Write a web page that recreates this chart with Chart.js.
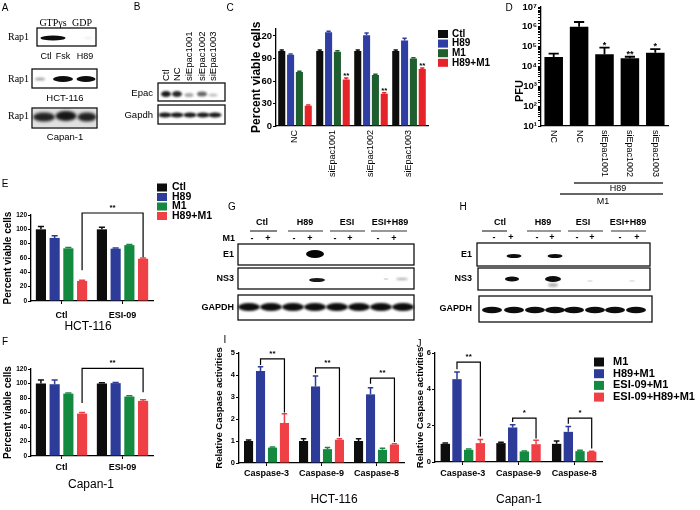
<!DOCTYPE html>
<html><head><meta charset="utf-8">
<script src="https://cdn.jsdelivr.net/npm/chart.js@4.4.1/dist/chart.umd.min.js"></script>
<style>
html,body{margin:0;padding:0;background:#fff;}
#wrap{position:relative;width:700px;height:510px;overflow:hidden;background:#fff;}
canvas{position:absolute;left:0;top:0;width:700px;height:510px;}
</style></head><body>
<div id="wrap">
<canvas id="base" width="700" height="510"></canvas>
<canvas id="chC" width="700" height="510"></canvas>
<canvas id="chD" width="700" height="510"></canvas>
<canvas id="chE" width="700" height="510"></canvas>
<canvas id="chF" width="700" height="510"></canvas>
<canvas id="chI" width="700" height="510"></canvas>
<canvas id="chJ" width="700" height="510"></canvas>
</div>
<script>
// ---------------- DATA ----------------
// Panel C
const cCategories = ['NC', 'siEpac1001', 'siEpac1002', 'siEpac1003'];
const cSeries = ['Ctl', 'H89', 'M1', 'H89+M1'];
const cCtl = [100, 100, 100, 100];
const cH89 = [95, 125, 121, 114];
const cM1 = [72, 99, 68, 90];
const cH89M1 = [27, 62, 43, 76];
const cCtlErr = [1.5, 1.5, 1.5, 1.5];
const cH89Err = [1, 1.5, 3, 3];
const cM1Err = [1, 1.5, 1, 1];
const cH89M1Err = [1, 2, 1.5, 1.5];
const cStars = ['', '**', '**', '**'];
const cYTicks = [0, 30, 60, 90, 120];

// Panel D
const dCategories = ['NC', 'NC', 'siEpac1001', 'siEpac1002', 'siEpac1003'];
const dPFU = [3.0e4, 1.0e6, 4.2e4, 2.6e4, 5.0e4];
const dPFUErr = [1.5e4, 7.5e5, 4.8e4, 0.5e4, 2.5e4];
const dStars = ['', '', '*', '**', '*'];
const dYTicks = [1e1, 1e2, 1e3, 1e4, 1e5, 1e6, 1e7];
const dYTickLabels = ['10\u00B9', '10\u00B2', '10\u00B3', '10\u2074', '10\u2075', '10\u2076', '10\u2077'];

// Panel E (HCT-116)
const eCategories = ['Ctl', 'ESI-09'];
const eCtl = [100, 100];
const eH89 = [88, 73];
const eM1 = [73.5, 78];
const eH89M1 = [28, 59];
const eCtlErr = [4, 3];
const eH89Err = [3, 1];
const eM1Err = [1, 1];
const eH89M1Err = [1, 1];
const eYTicks = [0, 20, 40, 60, 80, 100, 120];

// Panel F (Capan-1)
const fCategories = ['Ctl', 'ESI-09'];
const fCtl = [100, 100];
const fH89 = [99, 100.5];
const fM1 = [86, 82];
const fH89M1 = [58.5, 76];
const fCtlErr = [5, 1];
const fH89Err = [6, 1];
const fM1Err = [1, 1];
const fH89M1Err = [1.5, 1.5];
const fYTicks = [0, 20, 40, 60, 80, 100, 120];

// Panel I (HCT-116 caspase)
const casCategories = ['Caspase-3', 'Caspase-9', 'Caspase-8'];
const casSeries = ['M1', 'H89+M1', 'ESI-09+M1', 'ESI-09+H89+M1'];
const iM1 = [1.0, 1.0, 1.0];
const iH89M1 = [4.18, 3.48, 3.12];
const iESIM1 = [0.7, 0.63, 0.6];
const iESIH89M1 = [1.82, 1.06, 0.84];
const iM1Err = [0.05, 0.1, 0.1];
const iH89M1Err = [0.2, 0.48, 0.3];
const iESIM1Err = [0.03, 0.08, 0.07];
const iESIH89M1Err = [0.42, 0.04, 0.04];
const iYTicks = [0, 1, 2, 3, 4, 5];

// Panel J (Capan-1 caspase)
const jM1 = [1.0, 1.04, 1.0];
const jH89M1 = [4.56, 1.9, 1.66];
const jESIM1 = [0.67, 0.58, 0.6];
const jESIH89M1 = [1.04, 0.98, 0.57];
const jM1Err = [0.04, 0.05, 0.15];
const jH89M1Err = [0.4, 0.15, 0.3];
const jESIM1Err = [0.05, 0.03, 0.04];
const jESIH89M1Err = [0.2, 0.22, 0.02];
const jYTicks = [0, 2, 4, 6];

// ---------------- STYLE ----------------
const FONT = '"Liberation Sans", Arial, Helvetica, sans-serif';
const SERIF = '"Liberation Serif", "Times New Roman", serif';
Chart.defaults.font.family = FONT;
Chart.defaults.color = '#000';
const colC = ['#0d0d0d', '#2f3ea3', '#1f5e2e', '#e62329'];
const colE = ['#0d0d0d', '#2c3c98', '#138a3f', '#ef4046'];

// ---------------- PLUGIN ----------------
const decorPlugin = {
  id: 'decor',
  afterDraw(chart, args, o) {
    const ctx = chart.ctx, ys = chart.scales.y, xs = chart.scales.x;
    ctx.save();
    chart.data.datasets.forEach((ds, i) => {
      const meta = chart.getDatasetMeta(i);
      meta.data.forEach((bar, j) => {
        const v = ds.data[j], e = ds.errors ? ds.errors[j] : 0;
        let topPx = ys.getPixelForValue(v);
        if (e) {
          const py = ys.getPixelForValue(v + e);
          const cap = bar.width * (o.cap || 0.5);
          ctx.strokeStyle = ds.backgroundColor; ctx.lineWidth = o.errLw || 1.5;
          ctx.beginPath(); ctx.moveTo(bar.x, topPx); ctx.lineTo(bar.x, py);
          ctx.moveTo(bar.x - cap / 2, py); ctx.lineTo(bar.x + cap / 2, py); ctx.stroke();
          topPx = py;
        }
        if (ds.stars && ds.stars[j]) {
          ctx.fillStyle = '#000'; ctx.font = o.starFont; ctx.textAlign = 'center'; ctx.textBaseline = 'alphabetic';
          ctx.fillText(ds.stars[j], bar.x, topPx + (o.starDy || 0));
        }
      });
    });
    (o.brackets || []).forEach(b => {
      const xa = chart.getDatasetMeta(b.a[0]).data[b.a[1]].x;
      const xb = chart.getDatasetMeta(b.b[0]).data[b.b[1]].x;
      const yt = ys.getPixelForValue(b.top), ya = ys.getPixelForValue(b.aEnd), yb = ys.getPixelForValue(b.bEnd);
      ctx.strokeStyle = '#000'; ctx.lineWidth = o.brLw || 1.2;
      ctx.beginPath(); ctx.moveTo(xa, ya); ctx.lineTo(xa, yt); ctx.lineTo(xb, yt); ctx.lineTo(xb, yb); ctx.stroke();
      ctx.fillStyle = '#000'; ctx.font = o.starFont; ctx.textAlign = 'center'; ctx.textBaseline = 'alphabetic';
      ctx.fillText(b.label, (xa + xb) / 2, yt + (o.brStarDy || 3));
    });
    if (o.legend) {
      const L = o.legend;
      chart.data.datasets.forEach((ds, i) => {
        const cy = L.y + i * L.row;
        ctx.fillStyle = ds.backgroundColor; ctx.fillRect(L.x, cy - L.bh / 2, L.bw, L.bh);
        ctx.fillStyle = '#000'; ctx.font = L.font; ctx.textAlign = 'left'; ctx.textBaseline = 'middle';
        ctx.fillText(ds.label, L.x + L.bw + L.gap, cy);
      });
    }
    if (o.xLabels) {
      chart.data.labels.forEach((lab, i) => {
        const x = xs.getPixelForValue(i);
        ctx.save(); ctx.translate(x, o.xLabels.y); ctx.rotate(Math.PI / 2);
        ctx.textAlign = 'left'; ctx.textBaseline = 'middle'; ctx.font = o.xLabels.font; ctx.fillStyle = '#000';
        ctx.fillText(lab, 0, 0); ctx.restore();
      });
    }
    (o.texts || []).forEach(t => {
      ctx.save(); ctx.translate(t.x, t.y); ctx.rotate(t.rot || 0);
      ctx.font = t.font; ctx.textAlign = t.align || 'center'; ctx.textBaseline = 'middle'; ctx.fillStyle = '#000';
      ctx.fillText(t.t, 0, 0); ctx.restore();
    });
    ctx.restore();
  }
};

function makeBar(id, c) {
  const a = c.area;
  const yScale = Object.assign({
    border: { display: true, color: '#000', width: 1.3 },
    grid: { display: true, drawOnChartArea: false, drawTicks: true, tickLength: 3, color: '#000', lineWidth: 1 },
    afterFit(s) { s.width = c.yw; }
  }, c.y);
  const xScale = Object.assign({
    border: { display: true, color: '#000', width: 1.3 },
    grid: { display: true, drawOnChartArea: false, drawTicks: c.xTicksMarks !== false, tickLength: 3, color: '#000', offset: false },
    afterFit(s) { s.height = c.xh; }
  }, c.x);
  return new Chart(document.getElementById(id), {
    type: 'bar',
    data: { labels: c.labels, datasets: c.datasets },
    options: {
      responsive: false, animation: false, events: [],
      layout: { padding: { left: a.l - c.yw, top: a.t, right: 700 - a.r, bottom: 510 - a.b - c.xh } },
      plugins: { legend: { display: false }, tooltip: { enabled: false }, title: { display: false }, decor: c.decor },
      scales: { x: xScale, y: yScale }
    },
    plugins: [decorPlugin]
  });
}

function ds(label, data, errors, color, bp, cp, stars) {
  return { label, data, errors, backgroundColor: color, borderWidth: 0, barPercentage: bp, categoryPercentage: cp, stars };
}
function fixedTicks(arr) { return s => { s.ticks = arr.map(v => ({ value: v })); }; }

// ---------------- CHART C ----------------
makeBar('chC', {
  labels: cCategories,
  datasets: [
    ds(cSeries[0], cCtl, cCtlErr, colC[0], 0.8, 0.93),
    ds(cSeries[1], cH89, cH89Err, colC[1], 0.8, 0.93),
    ds(cSeries[2], cM1, cM1Err, colC[2], 0.8, 0.93),
    ds(cSeries[3], cH89M1, cH89M1Err, colC[3], 0.8, 0.93, cStars)
  ],
  area: { l: 276, r: 428, t: 28.5, b: 126 }, yw: 27, xh: 60, xTicksMarks: false,
  y: { min: 0, max: 130, afterBuildTicks: fixedTicks(cYTicks),
       ticks: { font: { size: 9.5, weight: 'bold' }, padding: 1, autoSkip: false },
       title: { display: true, text: 'Percent viable cells', font: { size: 12, weight: 'bold' }, padding: 0 } },
  x: { ticks: { font: { size: 9 }, minRotation: 90, maxRotation: 90, padding: 4, autoSkip: false } },
  decor: { starFont: 'bold 8px ' + FONT, starDy: 0, cap: 0.6, errLw: 1.5,
           legend: { x: 438, y: 34, row: 9.6, bw: 10, bh: 8, gap: 4, font: 'bold 10px ' + FONT } }
});

// ---------------- CHART D ----------------
makeBar('chD', {
  labels: dCategories,
  datasets: [ ds('PFU', dPFU, dPFUErr, '#000', 0.73, 1, dStars) ],
  area: { l: 541, r: 668, t: 7, b: 126 }, yw: 30, xh: 10, xTicksMarks: false,
  y: { type: 'logarithmic', min: 10, max: 1e7,
       ticks: { font: { size: 9.5, weight: 'bold' }, padding: 1, autoSkip: false,
                callback: v => { const k = dYTicks.findIndex(t => Math.abs(t - v) / t < 1e-6); return k >= 0 ? dYTickLabels[k] : ''; } } },
  x: { ticks: { display: false } },
  decor: { starFont: 'bold 9px ' + FONT, starDy: 0, cap: 0.55, errLw: 1.8,
           xLabels: { y: 130, font: '9px ' + FONT },
           texts: [ { t: 'PFU', x: 520, y: 91, rot: -Math.PI / 2, font: 'bold 11px ' + FONT } ] }
});

// ---------------- CHART E ----------------
makeBar('chE', {
  labels: eCategories,
  datasets: [
    ds(cSeries[0], eCtl, eCtlErr, colE[0], 0.74, 0.9),
    ds(cSeries[1], eH89, eH89Err, colE[1], 0.74, 0.9),
    ds(cSeries[2], eM1, eM1Err, colE[2], 0.74, 0.9),
    ds(cSeries[3], eH89M1, eH89M1Err, colE[3], 0.74, 0.9)
  ],
  area: { l: 31, r: 153, t: 215, b: 301 }, yw: 29, xh: 25,
  y: { min: 0, max: 120, afterBuildTicks: fixedTicks(eYTicks),
       ticks: { font: { size: 6.5, weight: 'bold' }, padding: 1, autoSkip: false },
       title: { display: true, text: 'Percent viable cells', font: { size: 10, weight: 'bold' }, padding: 0 } },
  x: { ticks: { font: { size: 9, weight: 'bold' }, padding: 6, autoSkip: false, maxRotation: 0 } },
  decor: { starFont: 'bold 8px ' + FONT, cap: 0.6, errLw: 1.5, brStarDy: -3,
           brackets: [ { a: [3, 0], b: [3, 1], top: 122.8, aEnd: 43, bEnd: 61, label: '**' } ],
           legend: { x: 157, y: 187.5, row: 9.5, bw: 10, bh: 8, gap: 5, font: 'bold 10.5px ' + FONT } }
});

// ---------------- CHART F ----------------
makeBar('chF', {
  labels: fCategories,
  datasets: [
    ds(cSeries[0], fCtl, fCtlErr, colE[0], 0.74, 0.9),
    ds(cSeries[1], fH89, fH89Err, colE[1], 0.74, 0.9),
    ds(cSeries[2], fM1, fM1Err, colE[2], 0.74, 0.9),
    ds(cSeries[3], fH89M1, fH89M1Err, colE[3], 0.74, 0.9)
  ],
  area: { l: 31, r: 153, t: 369, b: 456 }, yw: 29, xh: 25,
  y: { min: 0, max: 120, afterBuildTicks: fixedTicks(fYTicks),
       ticks: { font: { size: 6.5, weight: 'bold' }, padding: 1, autoSkip: false },
       title: { display: true, text: 'Percent viable cells', font: { size: 10, weight: 'bold' }, padding: 0 } },
  x: { ticks: { font: { size: 9, weight: 'bold' }, padding: 3, autoSkip: false, maxRotation: 0 } },
  decor: { starFont: 'bold 8px ' + FONT, cap: 0.6, errLw: 1.5, brStarDy: -3,
           brackets: [ { a: [3, 0], b: [3, 1], top: 121, aEnd: 73, bEnd: 88, label: '**' } ] }
});

// ---------------- CHART I ----------------
makeBar('chI', {
  labels: casCategories,
  datasets: [
    ds(casSeries[0], iM1, iM1Err, colE[0], 0.76, 0.87),
    ds(casSeries[1], iH89M1, iH89M1Err, colE[1], 0.76, 0.87),
    ds(casSeries[2], iESIM1, iESIM1Err, colE[2], 0.76, 0.87),
    ds(casSeries[3], iESIH89M1, iESIH89M1Err, colE[3], 0.76, 0.87)
  ],
  area: { l: 239, r: 404, t: 353, b: 463 }, yw: 25.7, xh: 20,
  y: { min: 0, max: 5, afterBuildTicks: fixedTicks(iYTicks),
       ticks: { font: { size: 7.5, weight: 'bold' }, padding: 1, autoSkip: false },
       title: { display: true, text: 'Relative Caspase activities', font: { size: 9.5, weight: 'bold' }, padding: 0 } },
  x: { ticks: { font: { size: 9, weight: 'bold' }, padding: 2.6, autoSkip: false, maxRotation: 0 } },
  decor: { starFont: 'bold 8px ' + FONT, cap: 0.6, errLw: 1.5, brStarDy: -3,
           brackets: [
             { a: [1, 0], b: [3, 0], top: 4.73, aEnd: 4.45, bEnd: 2.3, label: '**' },
             { a: [1, 1], b: [3, 1], top: 4.32, aEnd: 4.08, bEnd: 1.2, label: '**' },
             { a: [1, 2], b: [3, 2], top: 3.86, aEnd: 3.6, bEnd: 0.95, label: '**' }
           ] }
});

// ---------------- CHART J ----------------
makeBar('chJ', {
  labels: casCategories,
  datasets: [
    ds(casSeries[0], jM1, jM1Err, colE[0], 0.8, 0.84),
    ds(casSeries[1], jH89M1, jH89M1Err, colE[1], 0.8, 0.84),
    ds(casSeries[2], jESIM1, jESIM1Err, colE[2], 0.8, 0.84),
    ds(casSeries[3], jESIH89M1, jESIH89M1Err, colE[3], 0.8, 0.84)
  ],
  area: { l: 435, r: 602, t: 353, b: 462 }, yw: 20.7, xh: 20,
  y: { min: 0, max: 6, afterBuildTicks: fixedTicks(jYTicks),
       ticks: { font: { size: 7.5, weight: 'bold' }, padding: 1, autoSkip: false },
       title: { display: true, text: 'Relative Caspase activities', font: { size: 9.5, weight: 'bold' }, padding: 0 } },
  x: { ticks: { font: { size: 9, weight: 'bold' }, padding: 3.6, autoSkip: false, maxRotation: 0 } },
  decor: { starFont: 'bold 8px ' + FONT, cap: 0.6, errLw: 1.5, brStarDy: -3,
           brackets: [
             { a: [1, 0], b: [3, 0], top: 5.5, aEnd: 5.1, bEnd: 1.4, label: '**' },
             { a: [1, 1], b: [3, 1], top: 2.42, aEnd: 2.2, bEnd: 1.3, label: '*' },
             { a: [1, 2], b: [3, 2], top: 2.42, aEnd: 2.1, bEnd: 0.75, label: '*' }
           ],
           legend: { x: 594, y: 362, row: 11.7, bw: 10, bh: 9, gap: 9, font: 'bold 11px ' + FONT } }
});

// ---------------- BASE: panel letters, blots, annotations ----------------
(function () {
  const ctx = document.getElementById('base').getContext('2d');
  function txt(s, x, y, font, align, rot) {
    ctx.save(); ctx.translate(x, y); ctx.rotate(rot || 0);
    ctx.font = font; ctx.textAlign = align || 'center'; ctx.textBaseline = 'middle'; ctx.fillStyle = '#000';
    ctx.fillText(s, 0, 0); ctx.restore();
  }
  function box(x1, y1, x2, y2, lw) {
    ctx.save(); ctx.strokeStyle = '#111'; ctx.lineWidth = lw || 1.3; ctx.strokeRect(x1, y1, x2 - x1, y2 - y1); ctx.restore();
  }
  function band(cx, cy, w, h, alpha, blur) {
    ctx.save(); ctx.filter = 'blur(' + (blur == null ? 0.8 : blur) + 'px)';
    ctx.fillStyle = 'rgba(0,0,0,' + alpha + ')';
    ctx.beginPath(); ctx.ellipse(cx, cy, w / 2, h / 2, 0, 0, Math.PI * 2); ctx.fill(); ctx.restore();
  }
  function line(x1, y1, x2, y2, lw, col) {
    ctx.save(); ctx.strokeStyle = col || '#000'; ctx.lineWidth = lw || 1.2;
    ctx.beginPath(); ctx.moveTo(x1, y1); ctx.lineTo(x2, y2); ctx.stroke(); ctx.restore();
  }
  const L = '10px ' + FONT;
  // panel letters
  txt('A', 5, 8, L); txt('B', 137, 7, L); txt('C', 230, 8, L); txt('D', 509, 8, L);
  txt('E', 5, 184, L); txt('F', 5, 342, L); txt('G', 232, 207, L); txt('H', 463, 207, L);
  txt('I', 225, 340, L); txt('J', 419, 344, L);

  // Panel A
  txt('GTP\u03B3s', 53, 23, '10px ' + SERIF); txt('GDP', 82, 23, '10px ' + SERIF);
  box(37, 28, 96, 46);
  band(53, 38, 25, 5, 0.95, 0.6); band(88, 38, 8, 2, 0.08, 1);
  txt('Rap1', 8, 37, '10px ' + SERIF, 'left');
  txt('Ctl', 46, 57, '9px ' + FONT); txt('Fsk', 63, 57, '9px ' + FONT); txt('H89', 85, 57, '9px ' + FONT);
  box(32, 69, 97, 88);
  band(40, 79, 10, 3, 0.35, 0.8); band(63, 79, 20, 6, 0.95, 0.7); band(86, 79, 19, 6, 0.95, 0.7);
  txt('Rap1', 8, 79, '10px ' + SERIF, 'left');
  txt('HCT-116', 65, 98, '9.5px ' + FONT);
  box(32, 108, 97, 128);
  ctx.save(); ctx.fillStyle = 'rgba(0,0,0,0.12)'; ctx.fillRect(33, 109, 63, 18); ctx.restore();
  band(44, 117, 22, 9, 0.85, 1.5); band(66, 116, 21, 10, 0.9, 1.5); band(87, 117, 19, 9, 0.85, 1.5);
  txt('Rap1', 8, 116, '10px ' + SERIF, 'left');
  txt('Capan-1', 65, 137, '9.5px ' + FONT);

  // Panel B
  const bLanes = [['Ctl', 166], ['NC', 177], ['siEpac1001', 189], ['siEpac1002', 202], ['siEpac1003', 213]];
  bLanes.forEach(([s, x]) => txt(s, x, 81, '9.5px ' + FONT, 'left', -Math.PI / 2));
  txt('Epac', 153, 93, '9.5px ' + FONT, 'right');
  box(158, 83, 225, 101);
  band(166, 94, 10, 6, 0.9, 1); band(177, 94, 10, 6, 0.85, 1); band(189, 95, 9, 4, 0.35, 1);
  band(202, 94, 10, 5, 0.6, 1); band(213, 95, 9, 3, 0.25, 1);
  txt('Gapdh', 153, 115, '9.5px ' + FONT, 'right');
  box(158, 105, 225, 124);
  [165, 177, 190, 203, 215].forEach(x => band(x, 115, 13, 5, 0.9, 0.8));

  // Panel D treatment lines
  line(574, 183, 663, 183, 1.5, '#333'); txt('H89', 618, 189, '9px ' + FONT);
  line(560, 194, 663, 194, 1.5, '#333'); txt('M1', 603, 202, '9px ' + FONT);

  // cell line labels
  txt('HCT-116', 88, 327, '12px ' + FONT); txt('Capan-1', 91, 485, '12px ' + FONT);
  txt('HCT-116', 334, 500, '12px ' + FONT); txt('Capan-1', 519, 500, '12px ' + FONT);

  // Panel G
  const B9 = 'bold 9px ' + FONT;
  [['Ctl', 262, 250, 277], ['H89', 305, 288, 323], ['ESI', 347, 330, 365], ['ESI+H89', 390, 371, 407]].forEach(([s, x, a, b]) => {
    txt(s, x, 223, B9); line(a, 231, b, 231, 1.2, '#333');
  });
  [252, 294, 335, 378].forEach(x => txt('-', x, 239, B9));
  [268, 310, 350, 394].forEach(x => txt('+', x, 239, B9));
  txt('M1', 235, 239, B9, 'right');
  box(238, 244, 414, 265); box(238, 268, 414, 289); box(238, 295, 414, 320);
  txt('E1', 234, 255, B9, 'right'); txt('NS3', 234, 279, B9, 'right'); txt('GAPDH', 234, 308, B9, 'right');
  band(315, 254, 18, 8, 0.98, 0.6);
  band(317, 280, 16, 4, 0.9, 0.6); band(402, 279, 12, 2, 0.35, 0.8); band(386, 279, 5, 1.5, 0.2, 0.6);
  [249, 271, 293, 315, 337, 359, 381, 403].forEach(x => band(x, 307, 22, 8, 0.95, 0.8));

  // Panel H
  [['Ctl', 500, 482, 507], ['H89', 543, 527, 561], ['ESI', 583, 568, 603], ['ESI+H89', 628, 611, 646]].forEach(([s, x, a, b]) => {
    txt(s, x, 223, B9); line(a, 231, b, 231, 1.2, '#333');
  });
  [494, 537, 577, 620].forEach(x => txt('-', x, 238, B9));
  [511, 552, 592, 637].forEach(x => txt('+', x, 238, B9));
  box(477, 243, 650, 266); box(478, 268, 650, 290); box(479, 296, 652, 322);
  txt('E1', 472, 255, B9, 'right'); txt('NS3', 472, 279, B9, 'right'); txt('GAPDH', 472, 309, B9, 'right');
  band(514, 256, 15, 4, 0.95, 0.5); band(555, 256, 15, 4, 0.95, 0.5);
  band(512, 279, 14, 5, 0.95, 0.5); band(553, 279, 16, 6, 0.95, 0.5); band(553, 285, 10, 4, 0.3, 1);
  band(590, 281, 6, 1.5, 0.15, 0.6); band(632, 281, 6, 1.5, 0.15, 0.6);
  [492, 514, 535, 555, 574, 595, 615, 636].forEach(x => band(x, 310, 20, 6.5, 0.95, 0.7));
})();
</script>
</body></html>
